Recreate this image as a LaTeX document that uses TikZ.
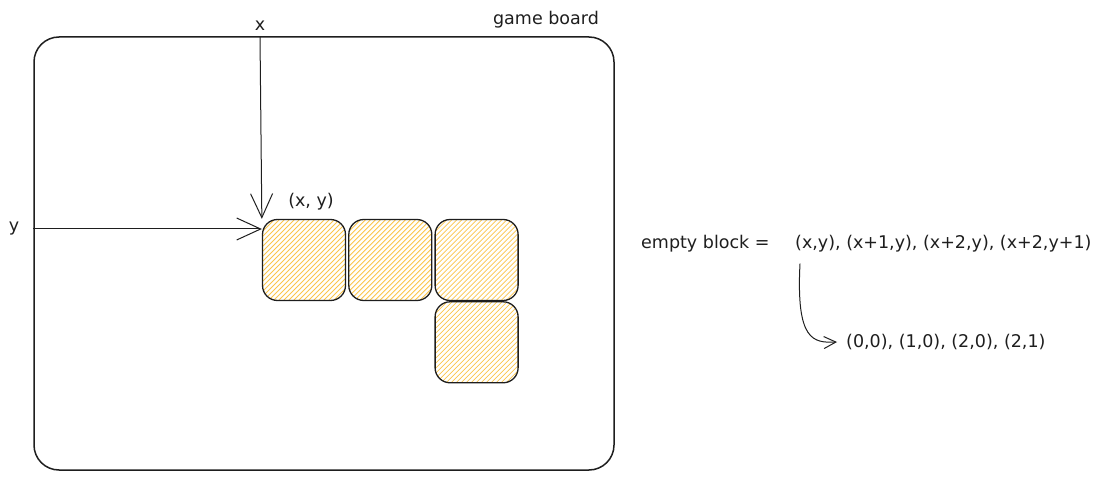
\documentclass[tikz,border=0pt]{standalone}
\usepackage{fontspec}
\setmainfont{DejaVu Sans}
\usetikzlibrary{positioning,arrows.meta}
\definecolor{Ink}{HTML}{1E1E1E}
\definecolor{Hatch}{HTML}{FBC54A}

\begin{document}
\begin{tikzpicture}[
        x=1pt, y=-1pt,
        font=\fontsize{17.5}{21}\selectfont, text=Ink,
        board/.style={draw=Ink, line width=1.5pt, rounded corners=25pt, minimum width=580pt, minimum height=433pt},
        block/.style={draw=Ink, line width=1.3pt, rounded corners=15pt, minimum width=83pt, minimum height=81pt,
            path picture={\foreach \d in {-100,-95,...,100}
                \draw[Hatch, line width=0.8pt] ([xshift=\d pt]path picture bounding box.center) ++(-60pt,-60pt) -- ++(120pt,120pt);}},
        lbl/.style={inner sep=1pt},
        >={Straight Barb[length=24pt, width=22pt]}, node distance=2pt and 2pt
    ]
        \useasboundingbox (0,0) rectangle (1103,481);
        \node[board] (board) at (324,253.5) {};
        \node[lbl] (title) at (546,20) {game board};
        \node[lbl] (xlbl) at (260,26) {x};
        \node[lbl] (ylbl) at (14,229) {y};
        \node[block] (b1) at (304,260) {};
        \node[block, right=of b1] (b2) {};
        \node[block, right=of b2] (b3) {};
        \node[block, below=0pt of b3] (b4) {};
        \node[lbl] (origin) at (311,202) {(x, y)};
        \node[lbl, anchor=west] (empty) at (640,244) {empty block =};
        \node[lbl, anchor=west] (tup) at (794,244) {(x,y), (x+1,y), (x+2,y), (x+2,y+1)};
        \node[lbl, anchor=west] (res) at (845,342) {(0,0), (1,0), (2,0), (2,1)};
        \draw[->, draw=Ink, line width=1pt] (xlbl |- board.north) -- (b1.north west);
        \draw[->, draw=Ink, line width=1pt] (ylbl -| board.west) -- (ylbl -| b1.west);
        \draw[-{Straight Barb[length=12pt, width=12pt]}, draw=Ink, line width=1pt]
            ([xshift=6pt, yshift=-10pt]tup.south west) .. controls +(-4,77) and +(-24,1) .. ([xshift=-8pt]res.west);
    \end{tikzpicture}
\end{document}
